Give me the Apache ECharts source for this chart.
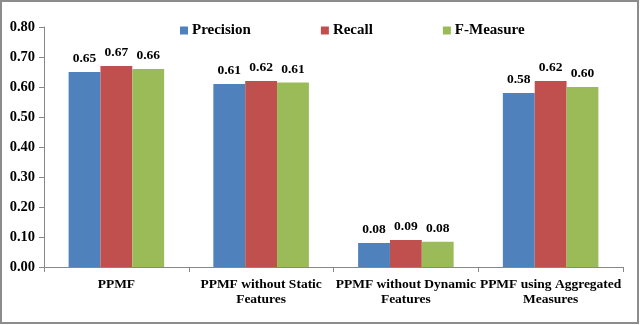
<!DOCTYPE html>
<html>
<head>
<meta charset="utf-8">
<script src="https://cdn.jsdelivr.net/npm/echarts@6/dist/echarts.min.js"></script>
<style>
  body { margin: 0; background: #fff; }
  #chart { width: 640px; height: 325px; }
</style>
</head>
<body>
<div id="chart"></div>
<script>
const categories = [
  "PPMF",
  "PPMF without Static\nFeatures",
  "PPMF without Dynamic\nFeatures",
  "PPMF using Aggregated\nMeasures"
];
const precision = [0.65, 0.61, 0.08, 0.58];
const recall = [0.67, 0.62, 0.09, 0.62];
const fMeasure = [0.66, 0.615, 0.084, 0.60];
const yTicks = [0, 0.1, 0.2, 0.3, 0.4, 0.5, 0.6, 0.7, 0.8];

const font = "'Liberation Serif', 'Times New Roman', serif";
const chart = echarts.init(document.getElementById("chart"));

function barSeries(name, data, color) {
  return {
    name: name,
    type: "bar",
    data: data,
    barGap: "0%",
    barCategoryGap: "34%",
    itemStyle: { color: color },
    label: {
      show: true,
      position: "top",
      distance: 6,
      color: "#000",
      fontFamily: font,
      fontWeight: "bold",
      fontSize: 13.5,
      formatter: p => p.value.toFixed(2)
    }
  };
}

chart.setOption({
  animation: false,
  graphic: [{
    type: "rect",
    shape: { x: 1, y: 1, width: 637, height: 322 },
    style: { fill: "none", stroke: "#8c8c8c", lineWidth: 2 },
    silent: true
  }],
  legend: {
    top: 18,
    left: 175,
    itemWidth: 8,
    itemHeight: 8,
    itemGap: 70,
    icon: "rect",
    textStyle: { fontFamily: font, fontWeight: "bold", fontSize: 15, color: "#000", padding: [0, 0, 0, -1] },
    data: ["Precision", "Recall", "F-Measure"]
  },
  grid: { left: 44, right: 17, top: 27, bottom: 58 },
  xAxis: {
    type: "category",
    data: categories,
    axisLine: { lineStyle: { color: "#888" } },
    axisTick: { show: true, length: 5, lineStyle: { color: "#888" } },
    axisLabel: {
      interval: 0,
      margin: 10,
      color: "#000",
      fontFamily: font,
      fontWeight: "bold",
      fontSize: 13.5,
      lineHeight: 15
    }
  },
  yAxis: {
    type: "value",
    min: 0,
    max: 0.8,
    interval: 0.1,
    splitLine: { show: false },
    axisLine: { show: true, lineStyle: { color: "#888" } },
    axisTick: { show: true, length: 5, lineStyle: { color: "#888" } },
    axisLabel: {
      margin: 9,
      color: "#000",
      fontFamily: font,
      fontWeight: "bold",
      fontSize: 14.5,
      formatter: v => yTicks.some(t => Math.abs(t - v) < 1e-9) ? v.toFixed(2) : ""
    }
  },
  series: [
    barSeries("Precision", precision, "#4F81BD"),
    barSeries("Recall", recall, "#C0504D"),
    barSeries("F-Measure", fMeasure, "#9BBB59")
  ]
});
</script>
</body>
</html>
